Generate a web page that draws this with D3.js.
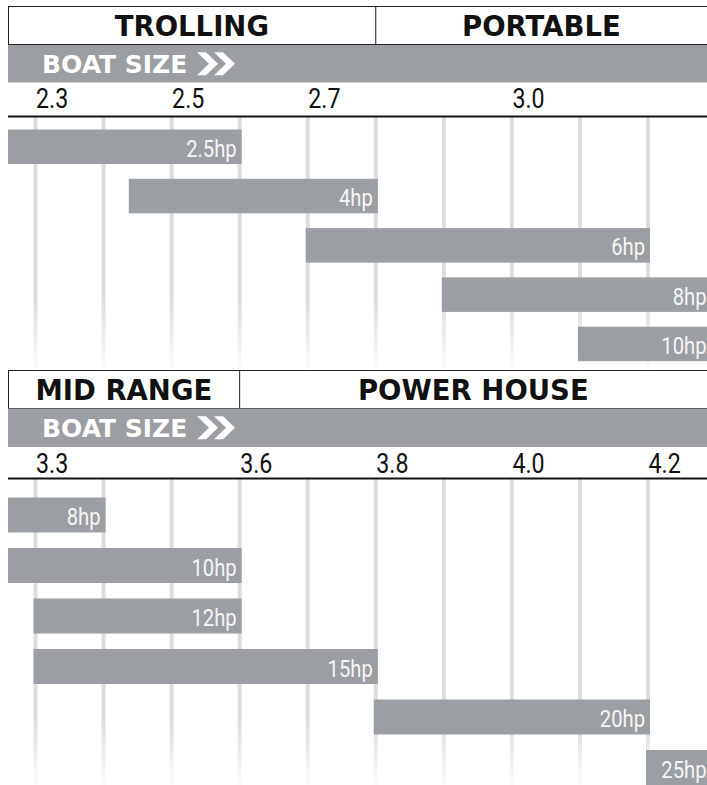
<!DOCTYPE html>
<meta charset="utf-8">
<style>
	body {
		margin: 0;
		background: #fff;
	}
	.head {
		font-family: "DejaVu Sans", "Open Sans", sans-serif;
		font-weight: bold;
		font-size: 27.5px;
		fill: #111;
	}
	.band-label {
		font-family: "DejaVu Sans", "Open Sans", sans-serif;
		font-weight: bold;
		font-size: 25px;
		fill: #fff;
	}
	.tick text {
		font-family: Roboto, "Liberation Sans", sans-serif;
		font-size: 27px;
		fill: #111;
	}
	.bar-label {
		font-family: Roboto, "Liberation Sans", sans-serif;
		font-size: 23.5px;
		fill: #f6f6f6;
	}
</style>
<body>
<svg id="chart"></svg>
<script src="https://cdn.jsdelivr.net/npm/d3@7"></script>
<script>
	// --- data ---
	var topGroups = ["TROLLING", "PORTABLE"];
	var topSplit = 2.8;               // boat size where PORTABLE starts
	var topTicks = [2.3, 2.5, 2.7, 3.0];
	var topMotors = ["2.5hp", "4hp", "6hp", "8hp", "10hp"];
	var topFrom = [2.2, 2.44, 2.7, 2.9, 3.1];
	var topTo = [2.6, 2.8, 3.2, 3.3, 3.3];

	var bottomGroups = ["MID RANGE", "POWER HOUSE"];
	var bottomSplit = 3.6;
	var bottomTicks = [3.3, 3.6, 3.8, 4.0, 4.2];
	var bottomMotors = ["8hp", "10hp", "12hp", "15hp", "20hp", "25hp"];
	var bottomFrom = [3.2, 3.2, 3.3, 3.3, 3.8, 4.2];
	var bottomTo = [3.4, 3.6, 3.6, 3.8, 4.2, 4.3];

	var W = 707, H = 785;
	var LEFT = 8;
	var GRAY = "#9b9ea2";
	var NARROW = 0.86;   // the labels use a condensed face

	var svg = d3.select("#chart").attr("width", W).attr("height", H);
	var defs = svg.append("defs");

	defs.append("clipPath").attr("id", "plot-clip")
		.append("rect").attr("x", LEFT).attr("y", 0).attr("width", W - LEFT).attr("height", H);

	function gradient(id, y0, yFade, y1) {
		var g = defs.append("linearGradient").attr("id", id)
			.attr("gradientUnits", "userSpaceOnUse")
			.attr("x1", 0).attr("x2", 0).attr("y1", y0).attr("y2", y1);
		g.append("stop").attr("offset", (yFade - y0) / (y1 - y0)).attr("stop-color", "#dddddd").attr("stop-opacity", 1);
		g.append("stop").attr("offset", 1).attr("stop-color", "#dddddd").attr("stop-opacity", 0.1);
	}

	function section(cfg) {
		var x = d3.scaleLinear().domain(cfg.domain).range([35.5, 648]);
		var y = d3.scaleBand().domain(cfg.motors)
			.range([cfg.rowTop, cfg.rowBottom]).paddingInner(cfg.pad).paddingOuter(0);

		var g = svg.append("g");

		// header box with the two groups
		var splitX = x(cfg.split);
		g.append("rect")
			.attr("x", LEFT + 0.5).attr("y", cfg.boxTop + 0.5)
			.attr("width", W + 10).attr("height", cfg.boxH)
			.attr("fill", "none").attr("stroke", "#222").attr("stroke-width", 1);
		g.append("line")
			.attr("x1", splitX).attr("x2", splitX)
			.attr("y1", cfg.boxTop).attr("y2", cfg.boxTop + cfg.boxH)
			.attr("stroke", "#222").attr("stroke-width", 1);
		var centers = [(LEFT + splitX) / 2, (splitX + W) / 2];
		g.selectAll("text.head").data(cfg.groups).join("text")
			.attr("class", "head")
			.attr("x", function(d, i) { return centers[i]; })
			.attr("y", cfg.boxTop + cfg.boxH / 2 + 11)
			.attr("text-anchor", "middle")
			.text(function(d) { return d; });

		// gray "boat size" band
		g.append("rect")
			.attr("x", LEFT).attr("y", cfg.bandTop)
			.attr("width", W - LEFT).attr("height", cfg.bandH)
			.attr("fill", GRAY);
		g.append("text").attr("class", "band-label")
			.attr("x", 42).attr("y", cfg.bandTop + cfg.bandH / 2 + 9)
			.text("BOAT SIZE");
		// chevrons
		var cy = cfg.bandTop + cfg.bandH / 2, hh = 11.5;
		[197, 214].forEach(function(x0) {
			g.append("path")
				.attr("d", "M" + x0 + "," + (cy - hh) + "h9l12," + hh + "l-12," + hh + "h-9l12," + (-hh) + "z")
				.attr("fill", "#fff");
		});

		// grid lines
		gradient(cfg.gradId, cfg.axisY, cfg.fadeY, cfg.gridEnd);
		var gridVals = d3.range(10).map(function(i) { return cfg.domain[0] + i * 0.1; });
		g.selectAll("rect.grid").data(gridVals).join("rect")
			.attr("class", "grid")
			.attr("x", function(d) { return x(d) - 2; })
			.attr("y", cfg.axisY)
			.attr("width", 4)
			.attr("height", cfg.gridEnd - cfg.axisY)
			.attr("fill", "url(#" + cfg.gradId + ")");

		// axis
		var axis = g.append("g")
			.attr("transform", "translate(0," + cfg.labelY + ")")
			.call(d3.axisTop(x).tickValues(cfg.ticks).tickSize(0).tickPadding(0).tickFormat(d3.format(".1f")));
		axis.select(".domain").remove();
		axis.selectAll("text")
			.attr("text-anchor", "start")
			.attr("x", 0).attr("y", 0).attr("dy", 0)
			.attr("transform", "scale(" + NARROW + ",1)");
		g.append("line")
			.attr("x1", LEFT).attr("x2", W)
			.attr("y1", cfg.axisY).attr("y2", cfg.axisY)
			.attr("stroke", "#111").attr("stroke-width", 2);

		// bars
		var rows = cfg.motors.map(function(m, i) {
			return { name: m, from: cfg.from[i], to: cfg.to[i] };
		});
		var bars = g.append("g").attr("clip-path", "url(#plot-clip)");
		bars.selectAll("rect").data(rows).join("rect")
			.attr("x", function(d) { return x(d.from) - 2; })
			.attr("y", function(d) { return y(d.name); })
			.attr("width", function(d) { return x(d.to) - x(d.from) + 4; })
			.attr("height", y.bandwidth())
			.attr("fill", GRAY);
		g.selectAll("text.bar-label").data(rows).join("text")
			.attr("class", "bar-label")
			.attr("text-anchor", "end")
			.attr("transform", function(d) {
				var tx = Math.min(x(d.to) - 3, W - 0.5);
				var ty = y(d.name) + y.bandwidth() / 2 + 10;
				return "translate(" + tx + "," + ty + ") scale(" + NARROW + ",1)";
			})
			.text(function(d) { return d.name; });
	}

	section({
		groups: topGroups, split: topSplit, ticks: topTicks,
		motors: topMotors, from: topFrom, to: topTo,
		domain: [2.3, 3.2],
		boxTop: 6, boxH: 38, bandTop: 45, bandH: 37.5,
		labelY: 108, axisY: 116.5,
		rowTop: 129.5, rowBottom: 129.5 + 4 * 49.3 + 34.5, pad: 14.8 / 49.3,
		gradId: "grid-top", fadeY: 300, gridEnd: 369
	});

	section({
		groups: bottomGroups, split: bottomSplit, ticks: bottomTicks,
		motors: bottomMotors, from: bottomFrom, to: bottomTo,
		domain: [3.3, 4.2],
		boxTop: 370, boxH: 38, bandTop: 408.5, bandH: 38.5,
		labelY: 473, axisY: 478.5,
		rowTop: 497.5, rowBottom: 497.5 + 5 * 50.5 + 35, pad: 15.5 / 50.5,
		gradId: "grid-bottom", fadeY: 720, gridEnd: 785
	});
</script>
</body>
